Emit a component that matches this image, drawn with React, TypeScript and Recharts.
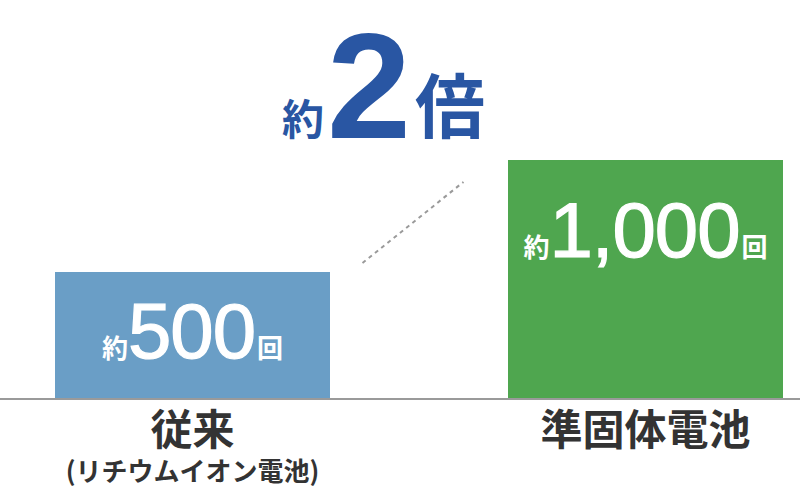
import React from "react";
import { Bar, Cell, ComposedChart, LabelList, Line, XAxis, YAxis } from "recharts";

const categories = ["従来", "準固体電池"];
const subCaptions = ["(リチウムイオン電池)", ""];
const cycleCounts = [500, 1000];
const cycleLabels = ["500", "1,000"];
const barColors = ["#6a9ec6", "#4fa64f"];
// dashed "about 2x" connector between the two bars
const connectorValues = [540, 902];
const valueDomain: [number, number] = [-67, 1714];

const data = categories.map((name, i) => ({
  name,
  cycles: cycleCounts[i],
  label: cycleLabels[i],
  link: connectorValues[i],
}));

const JP = "'Noto Sans CJK JP', 'Noto Sans', sans-serif";
const LATIN = "'Liberation Sans', Arial, sans-serif";

function CategoryTick(props: any) {
  const { x, y, payload } = props;
  const sub = subCaptions[payload.index];
  return (
    <g>
      <text x={x} y={y + 46} textAnchor="middle" fill="#333" fontFamily={JP} fontWeight={700} fontSize={42}>
        {payload.value}
      </text>
      {sub && (
        <text x={x} y={y + 82} textAnchor="middle" fill="#333" fontFamily={JP} fontWeight={700} fontSize={26}>
          {sub}
        </text>
      )}
    </g>
  );
}

function CycleLabel(props: any) {
  const { x, y, width, height, index } = props;
  const baseline = y + Math.min(height / 2 + 23, 97);
  return (
    <text x={x + width / 2} y={baseline} textAnchor="middle" fill="#fff">
      <tspan fontFamily={JP} fontWeight={700} fontSize={26}>約</tspan>
      <tspan fontFamily={LATIN} fontSize={78} letterSpacing={-1} stroke="#fff" strokeWidth={1.2}>
        {cycleLabels[index]}
      </tspan>
      <tspan fontFamily={JP} fontWeight={700} fontSize={26} dx={2}>回</tspan>
    </text>
  );
}

export default function App() {
  return (
    <div style={{ position: "absolute", left: 0, top: 0, width: 800, height: 500, overflow: "hidden", background: "#fff" }}>
      <div style={{ position: "absolute", left: -34, top: 0 }}>
        <ComposedChart width={906} height={500} data={data} margin={{ top: 0, right: 0, bottom: 0, left: 0 }}>
          <XAxis
            dataKey="name"
            height={101}
            interval={0}
            tickLine={false}
            tickSize={0}
            tickMargin={0}
            axisLine={{ stroke: "#9a9a9a", strokeWidth: 2 }}
            tick={<CategoryTick />}
          />
          <XAxis xAxisId="link" dataKey="name" hide padding={{ left: 346, right: 358 }} />
          <YAxis hide domain={valueDomain} type="number" allowDataOverflow />
          {/* bars rise from the bottom of the value axis */}
          <Bar dataKey={(d: any) => [valueDomain[0], d.cycles]} barSize={275} isAnimationActive={false}>
            {data.map((d, i) => (
              <Cell key={d.name} fill={barColors[i]} />
            ))}
            <LabelList dataKey="label" content={<CycleLabel />} />
          </Bar>
          <Line
            xAxisId="link"
            dataKey="link"
            stroke="#9a9a9a"
            strokeWidth={2}
            strokeDasharray="4 4"
            dot={false}
            activeDot={false}
            isAnimationActive={false}
          />
          <g fill="#2956a3" fontFamily={JP} fontWeight={700}>
            <text x={316} y={135} fontSize={42}>約</text>
            <text x={361} y={138} fontSize={151} fontFamily={LATIN}>2</text>
            <text x={449} y={133} fontSize={70}>倍</text>
          </g>
        </ComposedChart>
      </div>
    </div>
  );
}
